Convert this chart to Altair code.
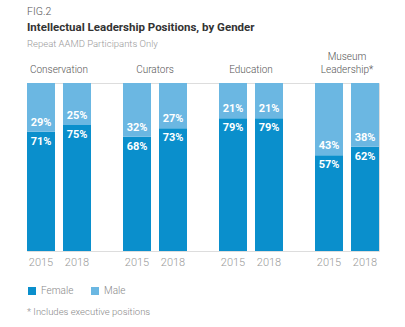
import altair as alt
import pandas as pd

categories = ["Conservation", "Curators", "Education", "Museum\nLeadership*"]
years = ["2015", "2018"]
female = [71, 75, 68, 73, 79, 79, 57, 62]
male = [29, 25, 32, 27, 21, 21, 43, 38]

rows = []
i = 0
for c in categories:
    for y in years:
        rows.append({"cat": c, "year": y, "gender": "Female", "value": female[i], "start": 0, "end": female[i]})
        rows.append({"cat": c, "year": y, "gender": "Male", "value": male[i], "start": female[i], "end": 100})
        i += 1
df = pd.DataFrame(rows)
df["label"] = df["value"].astype(str) + "%"

catdf = pd.DataFrame({"cat": categories})
catdf["line1"] = [c.split("\n")[0] if "\n" in c else "" for c in categories]
catdf["line2"] = [c.split("\n")[-1] for c in categories]

FONT = "Roboto"
C_F = "#0a8fcc"
C_M = "#6bb7e2"

xenc = alt.X("cat:N", sort=categories,
             scale=alt.Scale(paddingInner=1/3, paddingOuter=0), axis=None)
xoff = alt.XOffset("year:N", scale=alt.Scale(paddingInner=8/36, paddingOuter=0))

base = alt.Chart(df)

bars = base.mark_bar().encode(
    x=xenc, xOffset=xoff,
    y=alt.Y("start:Q", scale=alt.Scale(domain=[0, 100]), axis=None),
    y2="end:Q",
    color=alt.Color("gender:N", scale=alt.Scale(domain=["Female", "Male"], range=[C_F, C_M]),
                    legend=alt.Legend(orient="none", legendX=0, legendY=203, direction="horizontal",
                                      title=None, symbolType="square", symbolSize=64,
                                      symbolStrokeWidth=0, labelFont=FONT, labelFontSize=10,
                                      labelColor="#888", columnPadding=16, labelOffset=4,
                                      labelFontWeight=300)),
)

xc = alt.X("cat:N", sort=categories)

flabels = base.transform_filter("datum.gender == 'Female'").mark_text(
    color="white", fontWeight="bold", font=FONT, fontSize=11, baseline="middle", dy=10
).encode(x=xc, xOffset="year:N", y="end:Q", text="label:N")

mlabels = base.transform_filter("datum.gender == 'Male'").mark_text(
    color="white", fontWeight="bold", font=FONT, fontSize=11, baseline="middle", dy=-9
).encode(x=xc, xOffset="year:N", y="start:Q", text="label:N")

ydf = df[df["gender"] == "Female"]
ylabels = alt.Chart(ydf).mark_text(
    color="#999", font=FONT, fontSize=11, baseline="middle", dy=12, fontWeight=300
).encode(x=xc, xOffset="year:N", y=alt.datum(0), text="year:N")

cat2 = alt.Chart(catdf).mark_text(
    color="#555", font=FONT, fontSize=10, baseline="middle", dy=-13, fontWeight=300
).encode(x=xc, y=alt.datum(100), text="line2:N")
cat1 = alt.Chart(catdf).mark_text(
    color="#555", font=FONT, fontSize=10, baseline="middle", dy=-26, fontWeight=300
).encode(x=xc, y=alt.datum(100), text="line1:N")

texts = pd.DataFrame({
    "t": ["FIG.2", "Intellectual Leadership Positions, by Gender", "Repeat AAMD Participants Only",
          "* Includes executive positions"],
    "kind": ["fig", "title", "sub", "note"],
})

def txt(kind, y, size, color, weight="normal"):
    return alt.Chart(texts).transform_filter(f"datum.kind == '{kind}'").mark_text(
        align="left", baseline="middle", font=FONT, fontSize=size, color=color, fontWeight=weight
    ).encode(x=alt.value(0), y=alt.value(y), text="t:N")

chart = alt.layer(
    bars, flabels, mlabels, ylabels, cat1, cat2,
    txt("fig", -71, 10.5, "#555", 300),
    txt("title", -55, 11.5, "#333", "bold"),
    txt("sub", -39, 9.5, "#999", 300),
    txt("note", 229, 9.5, "#888", 300),
).properties(
    width=352, height=168,
    autosize=alt.AutoSizeParams(type="none"),
    padding={"left": 27, "top": 83, "right": 26, "bottom": 76},
).configure_view(stroke=None).configure(background="white")

chart.save("out.html", embed_options={"renderer": "svg", "actions": False})
